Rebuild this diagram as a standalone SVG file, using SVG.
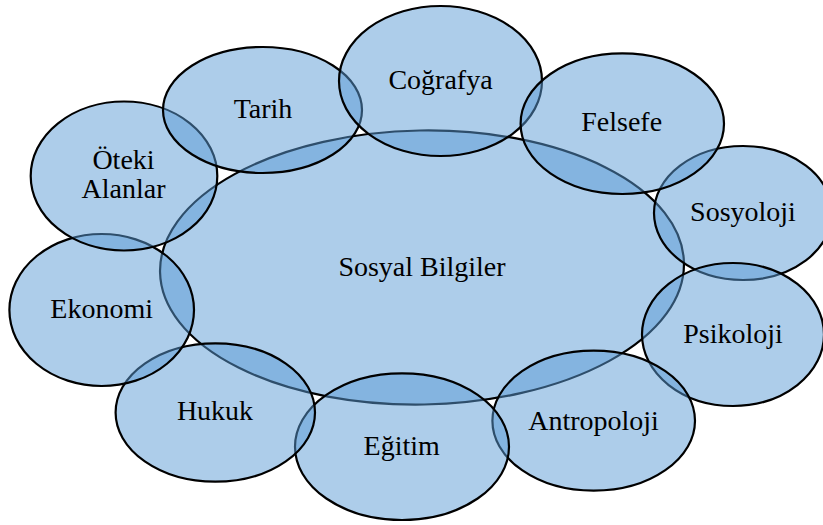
<svg xmlns="http://www.w3.org/2000/svg" width="823" height="525" viewBox="0 0 823 525">
<style>
.b{fill:#5B9BD5;fill-opacity:0.5;stroke:#000;stroke-width:2.2}
.t{font-family:'Liberation Serif','DejaVu Serif',serif;font-size:28px;fill:#000;text-anchor:middle}
</style>
<rect width="823" height="525" fill="#fff"/>
<g id="sosyal-bilgiler">
<ellipse class="b" cx="422" cy="267.5" rx="262" ry="137" transform="rotate(-1 422 267.5)"/>
<text class="t" font-family="Liberation Serif, serif" x="422" y="276">Sosyal Bilgiler</text>
</g>
<g id="sosyoloji">
<ellipse class="b" cx="743" cy="213" rx="89" ry="67"/>
<text class="t" font-family="Liberation Serif, serif" x="743" y="221">Sosyoloji</text>
</g>
<g id="psikoloji">
<ellipse class="b" cx="733" cy="334.5" rx="91" ry="71.5"/>
<text class="t" font-family="Liberation Serif, serif" x="733" y="342.5">Psikoloji</text>
</g>
<g id="antropoloji">
<ellipse class="b" cx="593.7" cy="420.7" rx="101.3" ry="70"/>
<text class="t" font-family="Liberation Serif, serif" x="593.5" y="429.5">Antropoloji</text>
</g>
<g id="egitim">
<ellipse class="b" cx="402" cy="446.7" rx="107" ry="73.3"/>
<text class="t" font-family="Liberation Serif, serif" x="401.7" y="455">Eğitim</text>
</g>
<g id="hukuk">
<ellipse class="b" cx="215.3" cy="412.5" rx="99.7" ry="69.2"/>
<text class="t" font-family="Liberation Serif, serif" x="215" y="420">Hukuk</text>
</g>
<g id="ekonomi">
<ellipse class="b" cx="101.7" cy="310" rx="92.3" ry="76"/>
<text class="t" font-family="Liberation Serif, serif" x="101.7" y="318.3">Ekonomi</text>
</g>
<g id="oteki-alanlar">
<ellipse class="b" cx="124" cy="176" rx="93.3" ry="74.5"/>
<text class="t" font-family="Liberation Serif, serif" x="123.5" y="169.3">Öteki</text>
<text class="t" font-family="Liberation Serif, serif" x="123.5" y="198.3">Alanlar</text>
</g>
<g id="tarih">
<ellipse class="b" cx="262.5" cy="110" rx="99.5" ry="63"/>
<text class="t" font-family="Liberation Serif, serif" x="263" y="118.3">Tarih</text>
</g>
<g id="cografya">
<ellipse class="b" cx="440.5" cy="81" rx="101.5" ry="75"/>
<text class="t" font-family="Liberation Serif, serif" x="440.5" y="89.3">Coğrafya</text>
</g>
<g id="felsefe">
<ellipse class="b" cx="622.3" cy="123.7" rx="101.7" ry="70.3"/>
<text class="t" font-family="Liberation Serif, serif" x="621.7" y="130.7">Felsefe</text>
</g>
<g id="connectors"></g>
</svg>
